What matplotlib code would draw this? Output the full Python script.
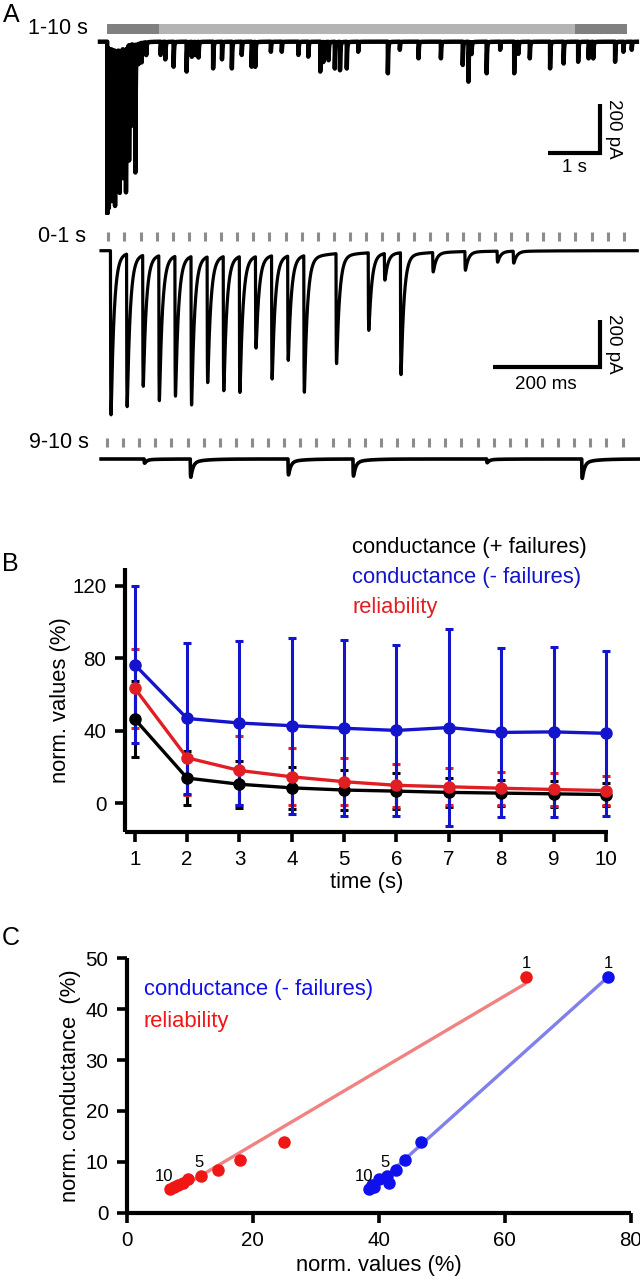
import numpy as np
import matplotlib
matplotlib.use('Agg')
import matplotlib.pyplot as plt

plt.rcParams['font.family'] = ['Liberation Sans', 'DejaVu Sans']

W, H = 640, 1280

# ------------------------------------------------------------------ data
# Panel A -- stimulation train (0-1 s and 9-10 s sweeps)
stim_interval_ms = 30.0
n_stim = 33
latency_ms = 4.0
# evoked EPSCs in the first second: stimulus index and peak amplitude (pA)
train_stim_idx = [0, 1, 2, 3, 4, 5, 6, 7, 8, 9, 10, 11, 12, 14, 16, 17, 18, 20, 22, 24, 25]
train_amp_pA = [703, 654, 561, 621, 599, 636, 539, 575, 582, 392, 528, 447, 585,
                471, 332, 114, 522, 83, 80, 47, 51]
# events during 9-10 s (ms after start of that second, pA)
late_t_ms = [69, 155, 337, 458, 707, 884]
late_amp_pA = [18, 78, 68, 73, 16, 83]
# asynchronous events in the 1-10 s overview (s, pA)
async_t_s = [1.03, 1.12, 1.28, 1.53, 1.63, 1.69, 1.76, 2.04, 2.21, 2.40, 2.59, 2.78,
             2.85, 3.15, 3.36, 3.68, 3.87, 4.10, 4.16, 4.26, 4.38, 4.48, 4.61, 4.83,
             5.40, 5.63, 5.99, 6.42, 6.84, 6.95, 7.01, 7.30, 7.56, 7.83, 7.91, 8.13,
             8.52, 8.78, 9.06, 9.26, 9.35, 9.77, 9.93, 10.09]
async_amp_pA = [54, 72, 102, 122, 61, 54, 64, 109, 72, 109, 54, 102,
                102, 41, 41, 54, 61, 122, 82, 75, 109, 116, 109, 41,
                129, 33, 68, 68, 95, 163, 49, 129, 33, 129, 49, 68,
                109, 89, 82, 68, 68, 82, 41, 33]
bar_segments = [(0, 1, 'dark'), (1, 8, 'light'), (9, 1, 'dark')]

# Panel B -- normalised values vs time
time_s = [1, 2, 3, 4, 5, 6, 7, 8, 9, 10]
cond_plus_mean = [46.4, 13.8, 10.4, 8.4, 7.2, 6.6, 5.9, 5.5, 5.1, 4.7]
cond_plus_sd = [21.2, 14.9, 13.0, 11.5, 10.9, 10.0, 8.0, 7.3, 7.3, 6.2]
reliab_mean = [63.4, 25.0, 18.0, 14.5, 11.8, 9.8, 9.0, 8.2, 7.5, 6.9]
reliab_sd = [21.8, 20.6, 19.0, 15.7, 13.1, 12.0, 10.1, 9.2, 9.2, 8.2]
cond_minus_mean = [76.4, 46.7, 44.2, 42.7, 41.3, 40.1, 41.7, 39.0, 39.3, 38.5]
cond_minus_sd = [43.4, 41.5, 45.3, 48.5, 48.7, 47.1, 54.6, 46.7, 46.8, 45.4]

B_xticks = [1, 2, 3, 4, 5, 6, 7, 8, 9, 10]
B_yticks = [0, 40, 80, 120]
C_xticks = [0, 20, 40, 60, 80]
C_yticks = [0, 10, 20, 30, 40, 50]

# ------------------------------------------------------------------ styles
BLACK = '#000000'
BLUE_B = '#1414cc'
RED_B = '#e01e24'
BLUE_C = '#1010ee'
RED_C = '#f01616'
BLUE_LINE = '#8080ec'
RED_LINE = '#f08282'
GRAY_DARK = '#808080'
GRAY_LIGHT = '#b4b4b4'
TICK_GRAY = '#8c8c8c'
FS_TEXT = 15.8
FS_TICK = 14.8

fig = plt.figure(figsize=(W / 100, H / 100), dpi=100)


def trace_axes(y_top, y_bot, x0_px, xs, base_px, ys):
    ax = fig.add_axes([0, 1 - y_bot / H, 1, (y_bot - y_top) / H])
    ax.set_xlim(-x0_px / xs, (W - x0_px) / xs)
    ax.set_ylim(-(y_bot - base_px) / ys, (base_px - y_top) / ys)
    ax.axis('off')
    return ax


def synth(t, ev_t, ev_a, td, tr, f_slow, ts):
    s = np.linspace(0, 10 * td, 4000)
    k = (1 - np.exp(-s / tr)) * ((1 - f_slow) * np.exp(-s / td) + f_slow * np.exp(-s / ts))
    norm = k.max()
    y = np.zeros_like(t)
    for te, a in zip(ev_t, ev_a):
        d = t - te
        m = d >= 0
        dd = d[m]
        y[m] -= a * (1 - np.exp(-dd / tr)) * ((1 - f_slow) * np.exp(-dd / td)
                                             + f_slow * np.exp(-dd / ts)) / norm
    return y


stim_ms = np.arange(n_stim) * stim_interval_ms
train_t_ms = [stim_ms[i] + latency_ms for i in train_stim_idx]

# ---------------- A: 1-10 s overview
px_s, px_pA_top = 52.0, 0.245
axA1 = trace_axes(12, 215, 107, px_s, 41.7, px_pA_top)
t1 = np.arange(-0.135, 10.19, 0.0002)
ev_t = [x / 1000 for x in train_t_ms] + list(async_t_s)
ev_a = list(train_amp_pA) + list(async_amp_pA)
y1 = synth(t1, ev_t, ev_a, td=0.008, tr=0.0003, f_slow=0.015, ts=0.08)
axA1.plot(t1, y1, color=BLACK, lw=3.2, solid_joinstyle='round')
for start, width, kind in bar_segments:
    axA1.barh(51.8, width, left=start, height=40.8,
              color=GRAY_DARK if kind == 'dark' else GRAY_LIGHT, lw=0)
# scale bar 1 s / 200 pA
cx, cy = 9.48, -454
axA1.plot([cx - 1, cx, cx], [cy, cy, cy + 200], color=BLACK, lw=3,
          solid_joinstyle='miter', solid_capstyle='butt')
axA1.annotate('200 pA', (cx, cy + 100), xytext=(10, 0), textcoords='offset points',
              rotation=270, ha='center', va='center', fontsize=13.5)
axA1.annotate('1 s', (cx - 0.5, cy), xytext=(0, -10.5), textcoords='offset points',
              ha='center', va='center', fontsize=13.5)

# ---------------- A: 0-1 s
px_ms, px_pA = 0.537, 0.2335
axA2 = trace_axes(222, 425, 108.3, px_ms, 250.7, px_pA)
t2 = np.arange(-13.5, 985, 0.05)
y2 = synth(t2, train_t_ms, train_amp_pA, td=5.5, tr=0.4, f_slow=0.02, ts=60.0)
axA2.plot(t2, y2, color=BLACK, lw=2.3)
axA2.vlines(stim_ms, (250.7 - 240.7) / px_pA, (250.7 - 231.7) / px_pA,
            color=TICK_GRAY, lw=2.2)
cx2, cy2 = 915.6, -496.8
axA2.plot([cx2 - 200, cx2, cx2], [cy2, cy2, cy2 + 200], color=BLACK, lw=3,
          solid_joinstyle='miter', solid_capstyle='butt')
axA2.annotate('200 pA', (cx2, cy2 + 100), xytext=(10, 0), textcoords='offset points',
              rotation=270, ha='center', va='center', fontsize=13.5)
axA2.annotate('200 ms', (cx2 - 100, cy2), xytext=(0, -13), textcoords='offset points',
              ha='center', va='center', fontsize=13.5)

# ---------------- A: 9-10 s
axA3 = trace_axes(430, 500, 107, px_ms, 459, px_pA)
t3 = np.arange(-11, 990, 0.05)
y3 = synth(t3, late_t_ms, late_amp_pA, td=4.0, tr=0.4, f_slow=0.15, ts=25.0)
axA3.plot(t3, y3, color=BLACK, lw=2.6)
axA3.vlines(stim_ms, (459 - 447) / px_pA, (459 - 438) / px_pA, color=TICK_GRAY, lw=2.2)

fig.text(88 / W, 1 - 28 / H, '1-10 s', ha='right', va='center', fontsize=15.5)
fig.text(86.5 / W, 1 - 236 / H, '0-1 s', ha='right', va='center', fontsize=15.5)
fig.text(89 / W, 1 - 442.5 / H, '9-10 s', ha='right', va='center', fontsize=15.5)

# ------------------------------------------------------------------ B
axB = fig.add_axes([124.5 / W, 1 - 831.7 / H, (608 - 124.5) / W, (831.7 - 568.3) / H])
for mean, sd, col in [(cond_plus_mean, cond_plus_sd, BLACK),
                      (reliab_mean, reliab_sd, RED_B),
                      (cond_minus_mean, cond_minus_sd, BLUE_B)]:
    axB.errorbar(time_s, mean, yerr=sd, color=col, lw=2.4, marker='o', ms=8,
                 capsize=3.2, capthick=2.2, elinewidth=2.2, clip_on=False)
axB.set_xlim(0.805, 10.04)
axB.set_ylim(-15.8, 129.6)
axB.set_xticks(B_xticks)
axB.set_yticks(B_yticks)
axB.set_xlabel('time (s)', fontsize=FS_TEXT, labelpad=2)
axB.set_ylabel('norm. values (%)', fontsize=FS_TEXT, labelpad=1)

fig.text(352 / W, 1 - 547 / H, 'conductance (+ failures)', color=BLACK, fontsize=FS_TEXT,
         ha='left', va='center')
fig.text(352 / W, 1 - 577 / H, 'conductance (- failures)', color=BLUE_B, fontsize=FS_TEXT,
         ha='left', va='center')
fig.text(352 / W, 1 - 607 / H, 'reliability', color=RED_B, fontsize=FS_TEXT,
         ha='left', va='center')

# ------------------------------------------------------------------ C
axC = fig.add_axes([126.5 / W, 1 - 1212.7 / H, (630.6 - 126.5) / W, (1212.7 - 958.3) / H])
for xs_, col_line, col_pt in [(reliab_mean, RED_LINE, RED_C),
                              (cond_minus_mean, BLUE_LINE, BLUE_C)]:
    xv = np.array(xs_)
    yv = np.array(cond_plus_mean)
    p = np.polyfit(xv, yv, 1)
    xx = np.array([xv.min(), xv.max()])
    axC.plot(xx, np.polyval(p, xx), color=col_line, lw=2.4, solid_capstyle='butt')
    axC.plot(xv, yv, 'o', color=col_pt, ms=8, clip_on=False)
    axC.annotate('1', (xv[0], yv[0]), xytext=(0, 9.5), textcoords='offset points',
                 ha='center', va='center', fontsize=12)
    axC.annotate('5', (xv[4], yv[4]), xytext=(-1, 9.5), textcoords='offset points',
                 ha='center', va='center', fontsize=12)
    axC.annotate('10', (xv[9], yv[9]), xytext=(-4, 9), textcoords='offset points',
                 ha='center', va='center', fontsize=12)
axC.set_xlim(0, 80)
axC.set_ylim(0, 50)
axC.set_xticks(C_xticks)
axC.set_yticks(C_yticks)
axC.set_xlabel('norm. values (%)', fontsize=FS_TEXT, labelpad=4)
axC.set_ylabel('norm. conductance  (%)', fontsize=FS_TEXT, labelpad=3)
axC.text(143.7 / W, 1 - 990 / H, 'conductance (- failures)', color=BLUE_C, fontsize=FS_TEXT,
         ha='left', va='center', transform=fig.transFigure)
axC.text(143.7 / W, 1 - 1021.7 / H, 'reliability', color=RED_C, fontsize=FS_TEXT,
         ha='left', va='center', transform=fig.transFigure)

for ax in (axB, axC):
    ax.spines['top'].set_visible(False)
    ax.spines['right'].set_visible(False)
    for s in ('left', 'bottom'):
        ax.spines[s].set_linewidth(3)
        ax.spines[s].set_capstyle('butt')
    ax.tick_params(length=7, width=2.6, labelsize=FS_TICK, pad=6)

fig.text(11 / W, 1 - 15 / H, 'A', ha='center', va='center', fontsize=18)
fig.text(10 / W, 1 - 564 / H, 'B', ha='center', va='center', fontsize=18)
fig.text(11 / W, 1 - 938 / H, 'C', ha='center', va='center', fontsize=18)

fig.savefig('out.png', dpi=100)
